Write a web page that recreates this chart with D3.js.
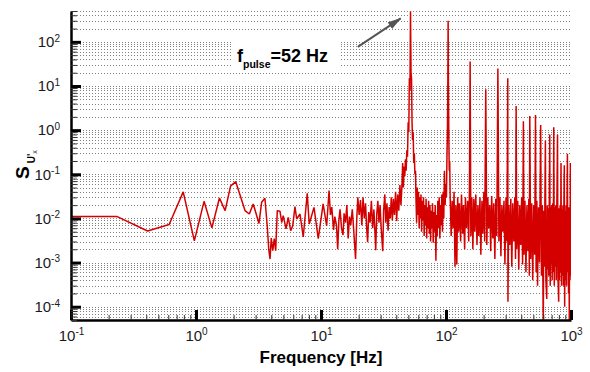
<!DOCTYPE html>
<html lang="en">
<head>
<meta charset="UTF-8">
<title>Velocity spectrum</title>
<script src="https://d3js.org/d3.v7.min.js"></script>
<style>
  body { margin: 0; background: #fff; }
  svg { display: block; font-family: "Liberation Sans", Arial, sans-serif; }
</style>
</head>
<body>
<svg width="590" height="372"></svg>
<script>
// spectrum, [frequency Hz, S], split in pieces
const lowBand = [
  [0.1,0.0111],[0.232,0.0111],[0.41,0.0052],[0.61,0.0073],[0.79,0.040],[0.97,0.0031],[1.16,0.0244],[1.34,0.0061],
  [1.54,0.029],[1.71,0.015],[1.89,0.054],[2.08,0.068],[2.47,0.015],[2.67,0.0126],[2.87,0.0213],[3.19,0.0077],
  [3.35,0.0232],[3.56,0.0286],[3.72,0.0063],[3.82,0.0020],[3.91,0.0012],[4.0,0.0036],[4.11,0.00185],[4.23,0.0035],
  [4.34,0.00185],[4.47,0.015],[4.70,0.0145],[4.85,0.0081],[4.99,0.0116],[5.25,0.0058],[5.47,0.0106],[5.72,0.0053],
  [5.94,0.0068],[6.19,0.0185],[6.39,0.0097],[6.79,0.0126],[7.21,0.0038],[7.76,0.037],[8.05,0.0075],[8.79,0.0178],
  [9.51,0.0035],[10.4,0.0213],[11.1,0.0068],[11.6,0.043]
];
const pulseBand = [
  [11.9,0.012],[12.2,0.018],[12.6,0.0055],[12.9,0.011],[13.3,0.007],[13.6,0.0020],[13.9,0.009],[14.2,0.016],
  [14.6,0.006],[15.0,0.0042],[15.3,0.013],[15.7,0.008],[16.1,0.020],[16.5,0.0035],[16.9,0.011],[17.3,0.007],
  [17.8,0.016],[18.3,0.005],[18.9,0.0012],[19.3,0.009],[19.7,0.030],[20.2,0.012],[20.7,0.026],[21.2,0.007],
  [21.7,0.030],[22.2,0.010],[22.7,0.022],[23.2,0.006],[23.6,0.0029],[24.1,0.014],[24.7,0.008],[25.3,0.025],
  [25.9,0.006],[26.5,0.016],[27.0,0.005],[27.4,0.0019],[27.9,0.012],[28.5,0.025],[29.1,0.008],[29.7,0.020],
  [30.3,0.006],[31.2,0.0018],[31.7,0.015],[32.4,0.035],[33.0,0.008],[33.7,0.022],[34.4,0.0053],[35.1,0.018],
  [35.8,0.010],[36.5,0.030],[37.2,0.009],[37.9,0.028],[38.7,0.012],[39.5,0.040],[40.3,0.0087],[41.1,0.035],
  [41.9,0.015],[42.8,0.057],[43.6,0.020],[44.5,0.06],[45.0,0.18],[45.6,0.05],[46.2,0.15],[46.8,0.09],
  [47.4,0.22],[48.0,0.12],[48.6,0.35],[49.2,0.25],[49.8,1.5],[50.4,0.9],[50.9,15],[51.5,8],
  [52.0,490],[52.5,20],[53.0,15],[53.5,1.5],[54.0,0.6],[54.6,0.9],[55.2,0.18],[55.8,0.3],[56.4,0.1],[57.0,0.12]
];
const midBand = [
  [57.5,0.03],[58.2,0.008],[58.9,0.05],[59.6,0.012],[60.3,0.04],[61.0,0.006],[61.7,0.03],[62.4,0.01],
  [63.1,0.035],[63.8,0.005],[64.6,0.025],[65.3,0.009],[66.1,0.03],[66.9,0.004],[67.7,0.02],[68.5,0.007],
  [69.3,0.028],[70.1,0.0035],[70.9,0.018],[71.8,0.006],[72.6,0.025],[73.5,0.0045],[74.4,0.02],[75.3,0.003],
  [76.2,0.015],[77.1,0.006],[78.0,0.022],[79.0,0.0028],[80.0,0.014],[81.0,0.005],[82.0,0.02],[83.0,0.0011],
  [84.0,0.012],[85.0,0.004],[86.0,0.025],[87.1,0.006],[88.2,0.03],[89.3,0.0035],[90.4,0.02],[91.5,0.007],
  [92.6,0.035],[93.7,0.005],[94.8,0.04],[96.0,0.01],[97.2,0.12],[98.4,0.02],[99.6,0.06],[100.8,0.03],
  [101.8,0.25],[102.6,0.8],[103.3,6],[104.0,300],[104.7,6],[105.4,0.6],[106.2,0.12],[107.0,0.2]
];
const highBand = [
  [108,0.03],[110,0.004],[112,0.025],[114,0.006],[116,0.04],[118,0.0008],[120,0.02],[122,0.0009],[124,0.03],[126,0.005],
  [128,0.022],[131,0.003],[133,0.035],[136,0.0045],[138,0.02],[141,0.002],[143,0.03],[146,0.006],[149,0.025],[152,0.003],
  [154,0.05],[156,36],[158,0.004],[161,0.03],[164,0.002],[167,0.028],[170,0.005],[173,0.035],[177,0.0025],[180,0.02],
  [183,0.004],[187,0.03],[190,0.0015],[194,0.025],[197,0.0045],[201,0.04],[204,0.003],[208,8.4],[212,0.0025],[216,0.03],
  [220,0.006],[224,0.02],[228,0.0018],[232,0.032],[237,0.0035],[241,0.022],[246,0.0012],[250,0.028],[255,0.004],[260,25],
  [265,0.003],[270,0.03],[275,0.0014],[280,0.02],[285,0.005],[291,0.025],[296,0.0009],[302,0.03],[307,0.003],[312,15],
  [313,0.00013],[318,0.02],[324,0.0025],[330,0.028],[336,0.0008],[342,0.022],[349,0.003],[355,0.03],[360,0.0012],[364,3.5],
  [368,0.002],[375,0.025],[382,0.0007],[389,0.02],[396,0.0025],[403,0.03],[410,0.0009],[416,1.6],[421,0.0015],[428,0.025],
  [436,0.0006],[444,0.02],[452,0.0018],[460,0.028],[464,0.0005],[468,2.1],[476,0.0012],[485,0.022],[494,0.0004],[503,0.02],
  [512,0.0015],[520,2.2],[526,0.0006],[533,0.025],[540,0.0003],[550,0.018],[560,0.001],[572,1.3],[580,0.0005],[590,0.02],
  [600,0.00003],[606,0.015],[612,0.0008],[618,0.022],[624,0.58],[630,0.0004],[640,0.00015],[646,0.02],[652,0.0007],[658,0.017],
  [664,0.0005],[670,0.025],[676,0.8],[682,0.0003],[688,0.018],[694,0.0009],[700,0.02],[707,0.0004],[714,0.022],[721,0.0006],
  [728,1.17],[735,0.0003],[742,0.018],[748,0.0008],[755,0.02],[762,0.0004],[770,0.015],[780,0.79],[786,0.0005],[797,0.00013],
  [804,0.017],[810,0.0004],[818,0.02],[825,0.0006],[832,0.18],[840,0.0003],[848,0.016],[855,0.0005],[862,0.02],[870,0.0003],
  [877,0.018],[884,0.16],[890,0.0001],[898,0.015],[906,0.0004],[914,0.02],[921,0.0003],[928,0.017],[936,0.29],[942,0.0006],
  [948,0.016],[955,0.0002],[962,0.018],[969,0.00005],[975,0.015],[982,0.0004],[988,0.18],[994,0.0005],[1000,0.015]
];

const xTickExps = [-1, 0, 1, 2, 3];
const yTickExps = [-4, -3, -2, -1, 0, 1, 2];
const xTitle = "Frequency [Hz]";
const pulseText = ["f", "pulse", "=52 Hz"];
const pulseLabelAt = [2.13, 35];            // where the note sits, data units
const pulseArrow = [[19.7, 77], [43.4, 340]]; // tail -> head, data units

const svg = d3.select("svg");
const mLeft = 71, mRight = 571, mTop = 11, mBottom = 320;

const x = d3.scaleLog().domain([0.1, 1000]).range([mLeft, mRight]);
const y = d3.scaleLog().domain([5e-5, 500]).range([mBottom, mTop]);

// minor decade steps
function decadeSteps(lo, hi, from, to) {
  var out = [];
  for (var e = from; e <= to; e++)
    for (var k = 1; k <= 9; k++) {
      var v = k * Math.pow(10, e);
      if (v >= lo * 0.999 && v <= hi * 1.001) out.push(v);
    }
  return out;
}
function isMajor(v, exps) {
  return exps.some(e => Math.abs(v / Math.pow(10, e) - 1) < 1e-6);
}
const yGrid = decadeSteps(5e-5, 500, -5, 2);
const yMinor = yGrid.filter(v => !isMajor(v, yTickExps));
const xMinor = decadeSteps(0.1, 1000, -1, 2).filter(v => !isMajor(v, xTickExps));

// dotted horizontal grid
svg.append("g").selectAll("line")
  .data(yGrid)
  .join("line")
  .attr("x1", mLeft).attr("x2", mRight)
  .attr("y1", d => Math.round(y(d)) + 0.5)
  .attr("y2", d => Math.round(y(d)) + 0.5)
  .attr("stroke", "#808080")
  .attr("stroke-width", 1)
  .attr("stroke-dasharray", "1,2");

// data
svg.append("clipPath").attr("id", "plotclip")
  .append("rect").attr("x", mLeft).attr("y", mTop).attr("width", mRight - mLeft).attr("height", mBottom - mTop);

const spectrum = lowBand.concat(pulseBand, midBand, highBand);
const line = d3.line().x(d => x(d[0])).y(d => y(d[1]));

svg.append("path")
  .datum(spectrum)
  .attr("clip-path", "url(#plotclip)")
  .attr("d", line)
  .attr("fill", "none")
  .attr("stroke", "#d40000")
  .attr("stroke-width", 1.5)
  .attr("stroke-linejoin", "bevel");

// annotation
const note = svg.append("g");
note.append("rect")
  .attr("x", x(pulseLabelAt[0]) - 4).attr("y", y(pulseLabelAt[1]) - 20)
  .attr("width", 106).attr("height", 28)
  .attr("fill", "#fff");
const noteText = note.append("text")
  .attr("x", x(pulseLabelAt[0])).attr("y", y(pulseLabelAt[1]))
  .attr("font-weight", "bold").attr("font-size", "18px").attr("fill", "#000");
noteText.append("tspan").text(pulseText[0]);
noteText.append("tspan").attr("font-size", "10.5px").attr("dy", 6).text(pulseText[1]);
noteText.append("tspan").attr("dy", -6).text(pulseText[2]);

svg.append("defs").append("marker")
  .attr("id", "head")
  .attr("markerUnits", "userSpaceOnUse")
  .attr("viewBox", "0 0 14 8")
  .attr("refX", 13).attr("refY", 4)
  .attr("markerWidth", 14).attr("markerHeight", 8)
  .attr("orient", "auto")
  .append("path").attr("d", "M0,0L14,4L0,8Z").attr("fill", "#555");

note.append("line")
  .attr("x1", x(pulseArrow[0][0])).attr("y1", y(pulseArrow[0][1]))
  .attr("x2", x(pulseArrow[1][0])).attr("y2", y(pulseArrow[1][1]))
  .attr("stroke", "#555").attr("stroke-width", 2)
  .attr("marker-end", "url(#head)");

// axes
function powLabel(sel) {
  sel.each(function(d) {
    var t = d3.select(this).text(null);
    t.append("tspan").text("10");
    t.append("tspan").attr("font-size", "10px").attr("dy", "-0.55em").text(Math.round(Math.log10(d)));
  });
}

const gx = svg.append("g").attr("transform", "translate(0," + mBottom + ")")
  .call(d3.axisBottom(x).tickValues(xTickExps.map(e => Math.pow(10, e)))
    .tickSize(-10).tickSizeOuter(0).tickPadding(10).tickFormat(""));
const gxMinor = svg.append("g").attr("transform", "translate(0," + mBottom + ")")
  .call(d3.axisBottom(x).tickValues(xMinor).tickSize(-5).tickSizeOuter(0).tickFormat(""));

const gy = svg.append("g").attr("transform", "translate(" + mLeft + ",0)")
  .call(d3.axisLeft(y).tickValues(yTickExps.map(e => Math.pow(10, e)))
    .tickSize(-10).tickSizeOuter(0).tickPadding(11).tickFormat(""));
const gyMinor = svg.append("g").attr("transform", "translate(" + mLeft + ",0)")
  .call(d3.axisLeft(y).tickValues(yMinor).tickSize(-6).tickSizeOuter(0).tickFormat(""));

[gxMinor, gyMinor].forEach(g => {
  g.select(".domain").remove();
  g.selectAll(".tick text").remove();
  g.selectAll(".tick line").attr("stroke", "#333").attr("stroke-width", 1);
});
[gx, gy].forEach(g => {
  g.attr("font-size", "15px").attr("font-family", null);
  g.select(".domain").attr("stroke", "#000").attr("stroke-width", 2.5);
  g.selectAll(".tick line").attr("stroke", "#000").attr("stroke-width", 3);
  g.selectAll(".tick text").attr("fill", "#1a1a1a").call(powLabel);
});

// titles
svg.append("text")
  .attr("x", (mLeft + mRight) / 2).attr("y", 363)
  .attr("text-anchor", "middle")
  .attr("font-weight", "bold").attr("font-size", "17px")
  .text(xTitle);

const yt = svg.append("text")
  .attr("transform", "translate(29,179) rotate(-90)")
  .attr("font-weight", "bold").attr("font-size", "19px");
yt.append("tspan").text("S");
yt.append("tspan").attr("font-size", "10px").attr("dx", 3).attr("dy", 6).text("U'");
yt.append("tspan").attr("font-size", "7px").attr("dy", 2).attr("font-weight", "normal").text("x");
</script>
</body>
</html>
